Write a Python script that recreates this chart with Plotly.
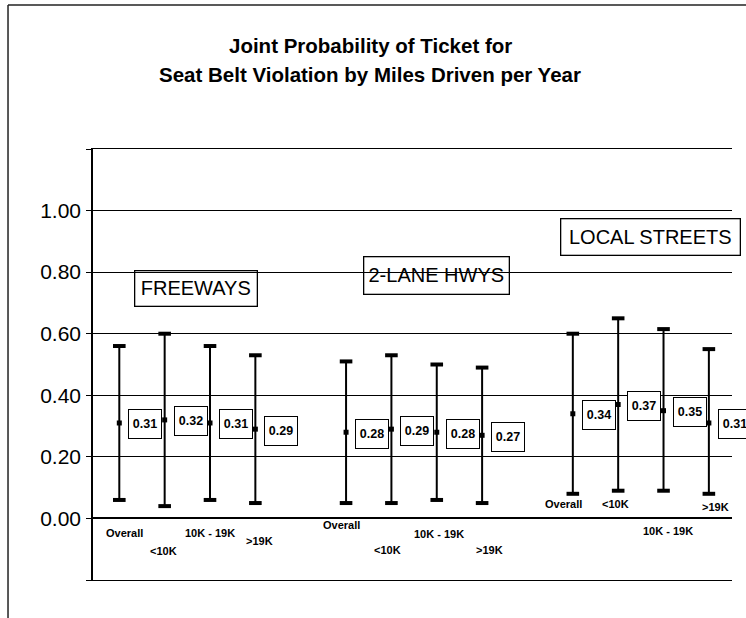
import plotly.graph_objects as go

# ---------------- data ----------------
groups = ["FREEWAYS", "2-LANE HWYS", "LOCAL STREETS"]
categories = ["Overall", "<10K", "10K - 19K", ">19K"]

freeways_mean = [0.31, 0.32, 0.31, 0.29]
freeways_upper = [0.56, 0.60, 0.56, 0.53]
freeways_lower = [0.06, 0.04, 0.06, 0.05]

twolane_mean = [0.28, 0.29, 0.28, 0.27]
twolane_upper = [0.51, 0.53, 0.50, 0.49]
twolane_lower = [0.05, 0.05, 0.06, 0.05]

local_mean = [0.34, 0.37, 0.35, 0.31]
local_upper = [0.60, 0.65, 0.615, 0.55]
local_lower = [0.08, 0.09, 0.09, 0.08]

y_tick_vals = [-0.2, 0.0, 0.2, 0.4, 0.6, 0.8, 1.0, 1.2]
y_tick_text = ["", "0.00", "0.20", "0.40", "0.60", "0.80", "1.00", ""]

title_lines = ["Joint Probability of Ticket for",
               "Seat Belt Violation by Miles Driven per Year"]

# ---------------- layout helpers (positions / styles) ----------------
means = [freeways_mean, twolane_mean, local_mean]
uppers = [freeways_upper, twolane_upper, local_upper]
lowers = [freeways_lower, twolane_lower, local_lower]

slot_gap = len(categories) + 1
# pixel offsets of the staggered category labels (x shift, y below zero line)
label_dx = [[5, -1, 0, 4], [-5, -4, 2, 7], [-9, -3, 4, 7]]
label_dy = [[15, 33, 15, 23], [7, 32, 16, 32], [-14, -14, 13, -11]]
# group box positions (x in slot units, y in data units) and sizes (px)
group_box_pos = [(1.69, 0.748), (7.0, 0.789), (11.72, 0.915)]
group_box_size = [(119, 32), (142, 34), (176, 33)]

FONT = "Liberation Sans, Arial, sans-serif"

xs, ms, ups, los = [], [], [], []
for g in range(len(groups)):
    for i in range(len(categories)):
        xs.append(g * slot_gap + i)
        ms.append(means[g][i])
        ups.append(uppers[g][i])
        los.append(lowers[g][i])

fig = go.Figure()

# whiskers + mean marker
fig.add_trace(go.Scatter(
    x=xs, y=ms, mode="markers",
    marker=dict(symbol="square", size=5, color="black"),
    error_y=dict(type="data", symmetric=False,
                 array=[u - m for u, m in zip(ups, ms)],
                 arrayminus=[m - l for m, l in zip(ms, los)],
                 color="black", thickness=2, width=0),
    showlegend=False, hoverinfo="skip",
))
# caps
fig.add_trace(go.Scatter(
    x=xs + xs, y=ups + los, mode="markers",
    marker=dict(symbol="line-ew", size=9, line=dict(width=4, color="black")),
    showlegend=False, hoverinfo="skip",
))

annotations = []
# value boxes
for x, m in zip(xs, ms):
    annotations.append(dict(
        x=x, y=m, xref="x", yref="y", text=f"{m:.2f}",
        showarrow=False, xanchor="left", yanchor="middle",
        xshift=9, yshift=-1.5,
        width=30, height=26, borderpad=1, borderwidth=1,
        bordercolor="black", bgcolor="white",
        font=dict(family=FONT, size=12.5, color="black", weight="bold"),
    ))

# category labels
for g in range(len(groups)):
    for i, c in enumerate(categories):
        annotations.append(dict(
            x=g * slot_gap + i, y=0, xref="x", yref="y", text=c,
            showarrow=False, xanchor="center", yanchor="middle",
            xshift=label_dx[g][i], yshift=-label_dy[g][i],
            font=dict(family=FONT, size=11, color="black", weight="bold"),
        ))

# group boxes
for g, name in enumerate(groups):
    gx, gy = group_box_pos[g]
    w, h = group_box_size[g]
    annotations.append(dict(
        x=gx, y=gy, xref="x", yref="y", text=name,
        showarrow=False, xanchor="center", yanchor="middle",
        width=w, height=h, borderpad=1, borderwidth=1.3,
        bordercolor="black", bgcolor="rgba(0,0,0,0)",
        font=dict(family=FONT, size=20, color="black"),
    ))

# title lines
for line, py in zip(title_lines, [1.239, 1.174]):
    annotations.append(dict(
        x=0.4335, y=py, xref="paper", yref="paper", text=line,
        showarrow=False, xanchor="center", yanchor="middle",
        font=dict(family=FONT, size=20.5, color="black", weight="bold"),
    ))

fig.update_layout(
    width=746, height=618,
    margin=dict(l=93, r=14, t=149, b=38),
    paper_bgcolor="white", plot_bgcolor="white",
    showlegend=False,
    annotations=annotations,
    shapes=[
        dict(type="line", xref="paper", yref="paper",
             x0=-0.133, x1=-0.133, y0=-0.3, y1=1.334,
             line=dict(color="#222", width=1.5)),
        dict(type="line", xref="paper", yref="paper",
             x0=-0.133, x1=1.2, y0=1.334, y1=1.334,
             line=dict(color="#222", width=1.5)),
    ],
    xaxis=dict(range=[-0.58, 13.51], showgrid=False, zeroline=False,
               showticklabels=False, ticks="",
               showline=True, mirror=True, linecolor="black", linewidth=1.3),
    yaxis=dict(range=[-0.2, 1.2], tickmode="array",
               tickvals=y_tick_vals, ticktext=y_tick_text,
               showgrid=True, gridcolor="black", gridwidth=1.2,
               zeroline=True, zerolinecolor="black", zerolinewidth=1.6,
               showline=True, linecolor="black", linewidth=1.5,
               ticks="outside", ticklen=5, tickcolor="black", tickwidth=1.2,
               ticklabelstandoff=1,
               tickfont=dict(family=FONT, size=21, color="black")),
)

fig.write_html("out.html",
               config={"displayModeBar": False},
               post_script="document.body.style.margin='0';")
